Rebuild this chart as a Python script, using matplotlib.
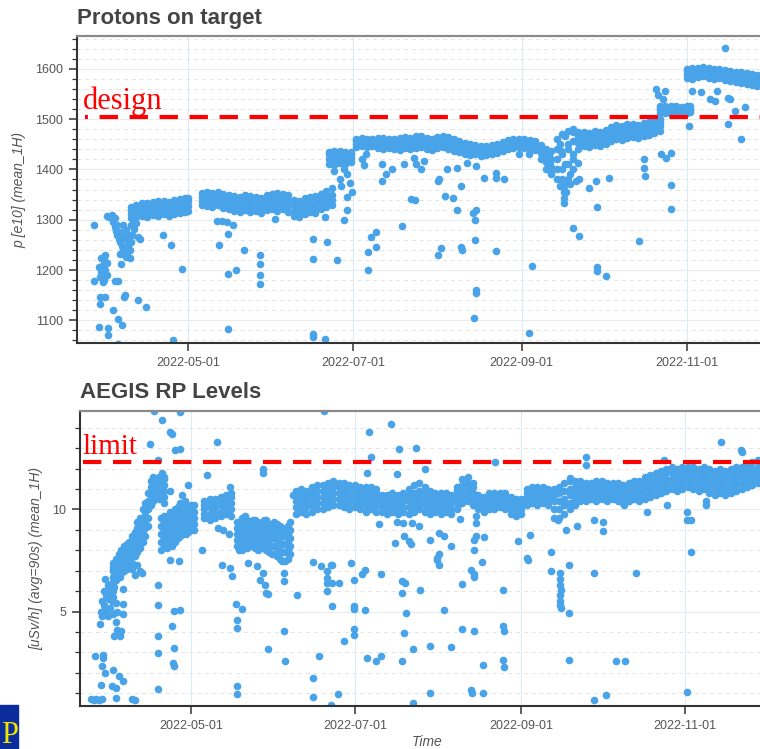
import numpy as np
import matplotlib
matplotlib.use("Agg")
import matplotlib.pyplot as plt
import matplotlib.dates as mdates
from matplotlib.patches import Rectangle
from matplotlib.ticker import MultipleLocator, AutoMinorLocator

# Values. Days are day-of-year in 2022 (121 = 2022-05-01)
DESIGN = 1505      # p [e10]
LIMIT = 12.3       # uSv/h

# Protons on target: dense band, one column of values per day (low -> high)
pot_band_day = [100, 102, 104, 106, 108, 110, 112, 114, 116, 118, 120, 121,
                126, 128, 130, 132, 134, 136, 138, 140, 142, 144, 146, 148, 150,
                152, 154, 156, 158, 160, 162, 164, 166, 168, 170, 172, 174,
                173, 175, 177, 179, 181,
                183, 185, 187, 189, 191, 193, 195, 197, 199, 201, 203, 205, 207,
                209, 211, 213, 215, 217, 219, 221, 223, 225, 227, 229, 231, 233,
                235, 237, 239, 241, 243, 245, 247, 249, 251, 253, 255,
                257, 259, 261, 263, 265, 267, 269, 271, 273, 275, 277, 279, 281,
                283, 285, 287, 289, 291, 293, 295,
                295, 297, 299, 301, 303, 305, 306,
                305, 307, 309, 311, 313, 315, 317, 319, 321, 323, 325, 327, 329, 331, 333]
pot_band_vals = [
    [1304, 1312, 1320, 1326], [1306, 1314, 1322, 1330], [1308, 1316, 1326, 1334],
    [1306, 1316, 1326, 1334], [1310, 1320, 1328, 1336], [1308, 1318, 1328, 1338],
    [1312, 1322, 1330, 1338], [1308, 1318, 1330, 1336], [1312, 1322, 1332, 1340],
    [1314, 1324, 1334, 1342], [1316, 1326, 1336, 1344], [1318, 1328, 1338, 1344],
    [1330, 1338, 1346, 1354], [1328, 1338, 1348, 1356], [1326, 1336, 1346, 1354],
    [1330, 1340, 1348, 1356], [1324, 1334, 1344, 1352], [1322, 1332, 1342, 1350],
    [1318, 1328, 1338, 1348], [1316, 1326, 1336, 1346], [1320, 1330, 1340, 1350],
    [1316, 1326, 1338, 1348], [1318, 1328, 1338, 1346], [1314, 1324, 1334, 1344],
    [1320, 1330, 1340, 1350], [1322, 1332, 1342, 1352], [1318, 1330, 1342, 1354],
    [1322, 1334, 1344, 1352], [1316, 1328, 1340, 1350], [1308, 1318, 1330, 1340],
    [1306, 1316, 1326, 1338], [1312, 1322, 1334, 1344], [1316, 1326, 1336, 1346],
    [1314, 1326, 1338, 1348], [1322, 1334, 1344, 1352], [1326, 1336, 1346, 1358],
    [1330, 1340, 1350, 1362],
    [1410, 1420, 1430, 1434], [1408, 1418, 1428, 1436], [1412, 1422, 1432, 1436],
    [1410, 1420, 1430, 1434], [1414, 1422, 1430, 1434],
    [1444, 1450, 1456, 1460], [1446, 1452, 1458, 1462], [1444, 1450, 1456, 1460],
    [1446, 1452, 1458, 1460], [1442, 1450, 1456, 1462], [1440, 1448, 1456, 1462],
    [1442, 1450, 1458, 1460], [1440, 1448, 1454, 1460], [1438, 1446, 1454, 1462],
    [1442, 1450, 1458, 1464], [1440, 1448, 1456, 1462], [1442, 1450, 1458, 1466],
    [1444, 1452, 1460, 1466], [1440, 1448, 1456, 1462], [1438, 1446, 1454, 1460],
    [1442, 1450, 1458, 1464], [1444, 1452, 1460, 1466], [1440, 1450, 1458, 1464],
    [1436, 1446, 1454, 1460], [1434, 1442, 1450, 1456], [1430, 1438, 1446, 1452],
    [1428, 1436, 1444, 1450], [1430, 1436, 1442, 1448], [1426, 1432, 1440, 1446],
    [1428, 1434, 1440, 1446], [1430, 1436, 1442, 1448], [1432, 1438, 1444, 1450],
    [1436, 1442, 1448, 1454], [1440, 1446, 1452, 1458], [1442, 1448, 1454, 1460],
    [1444, 1450, 1456, 1460], [1442, 1448, 1454, 1460], [1440, 1446, 1452, 1458],
    [1438, 1444, 1450, 1456], [1420, 1432, 1440, 1448], [1400, 1414, 1428, 1440],
    [1392, 1404, 1420, 1436],
    [1380, 1400, 1440, 1460], [1370, 1400, 1430, 1470], [1380, 1410, 1450, 1476],
    [1400, 1430, 1456, 1474], [1440, 1452, 1464, 1474], [1446, 1456, 1466, 1474],
    [1444, 1454, 1464, 1472], [1448, 1458, 1468, 1476], [1446, 1456, 1466, 1474],
    [1450, 1460, 1470, 1478], [1456, 1466, 1476, 1484], [1460, 1470, 1480, 1488],
    [1458, 1468, 1478, 1486], [1462, 1472, 1482, 1490], [1464, 1474, 1484, 1490],
    [1462, 1472, 1480, 1488], [1466, 1476, 1486, 1492], [1468, 1478, 1488, 1494],
    [1472, 1482, 1492, 1498], [1476, 1486, 1494, 1500],
    [1512, 1518, 1522, 1526], [1512, 1516, 1520, 1526], [1510, 1516, 1522, 1526],
    [1512, 1518, 1522, 1526], [1510, 1516, 1520, 1524], [1512, 1518, 1522, 1526],
    [1514, 1518, 1522, 1526],
    [1582, 1590, 1596, 1600], [1580, 1588, 1596, 1602], [1584, 1592, 1598, 1602],
    [1586, 1594, 1600, 1604], [1582, 1590, 1596, 1602], [1580, 1588, 1594, 1600],
    [1582, 1590, 1596, 1600], [1578, 1586, 1592, 1598], [1576, 1584, 1590, 1596],
    [1574, 1582, 1588, 1594], [1572, 1580, 1588, 1594], [1570, 1578, 1586, 1592],
    [1568, 1576, 1584, 1590], [1566, 1574, 1582, 1588], [1566, 1572, 1580, 1586],
]

# Protons on target: scattered points
pot_out_day = [86.4, 86.4, 88.3, 91.6, 91.6, 88.6, 88.6, 90.5, 93.4, 95.3, 96.7, 95.3,
               94.2, 95.3, 97.5, 97.8, 96, 96.4, 102.6, 105.6, 102.6, 103.4, 111.8,
               114.8, 118.8, 115.5,
               88.5, 89, 89.5, 90, 90.5, 91, 91, 89, 90, 88, 89.5, 90.5,
               91, 92, 93, 94,
               93.5, 94, 94.5, 95, 95.5, 96, 96.5, 97, 97.5, 98, 98.5, 99, 99.5, 99,
               98, 97, 96, 95, 100, 100.5, 101, 102, 98, 97, 99.5, 100,
               132.4, 135.7, 138.6, 135.7, 135.7, 131.7, 133.5, 135.3, 137.5, 141.6,
               147.5, 147.5, 147.5, 147.5, 153, 167, 167, 172.1, 167, 167.2, 171.7,
               171.4, 175.8, 179.5, 179.5, 178.7, 187.2, 187.2, 188.6, 190.5, 190.5,
               176.9, 177.6, 179.8, 180.6, 181.3, 175, 178.7, 185, 186, 186.5,
               192.7, 194.2, 196.4, 200.8, 204.5, 205.2, 208.1, 207, 213.6, 216.6,
               220.3, 221.7, 223.9, 227.2, 230.2, 234.6, 234.6, 237.5, 243, 246.7,
               254, 254.5, 254, 255, 258.5, 260.3, 265.1, 268.8, 271.4, 276.1, 289,
               289, 289.4, 295.6, 297.1, 299.3, 299, 305.6, 306.7, 310, 313.6, 315.5,
               315.9, 320.3, 321, 322.8, 326.5, 320.3, 325, 319.2, 293.5, 294.5, 296, 297,
               257, 258, 259, 260, 261, 262, 263, 264, 258, 262, 260, 263, 265,
               203.4, 204.8, 215.9, 218.8, 220.3, 226.1, 227.2, 226.9, 200, 226.9,
               214.4, 213.3, 221.7, 222.1, 234.6, 227.2, 227.2, 226.5, 247.8, 246.7,
               259.6, 259.6, 259.6, 259.6, 259.6, 271.7, 262.9, 265.1, 271.7, 271.9,
               275, 287.5, 299, 192.7, 213.3]
pot_out_val = [1290, 1178, 1086, 1084, 1070, 1146, 1132, 1146, 1120, 1102, 1090, 1054,
               1178, 1178, 1146, 1150, 1232, 1212, 1140, 1126, 1266, 1262, 1270,
               1250, 1202, 1060,
               1186, 1196, 1210, 1222, 1200, 1214, 1190, 1224, 1180, 1206, 1176, 1230,
               1308, 1306, 1310, 1304,
               1296, 1286, 1278, 1270, 1262, 1256, 1248, 1240, 1232, 1226, 1236, 1250,
               1240, 1270, 1280, 1290, 1276, 1290, 1290, 1270, 1282, 1294, 1262, 1266,
               1224, 1256,
               1250, 1192, 1200, 1082, 1272, 1298, 1298, 1296, 1290, 1240,
               1230, 1212, 1190, 1172, 1302, 1222, 1262, 1256, 1072, 1066, 1062,
               1306, 1220, 1346, 1320, 1300, 1200, 1236, 1266, 1246, 1276,
               1380, 1366, 1390, 1372, 1356, 1396, 1400, 1420, 1408, 1430,
               1410, 1390, 1400, 1410, 1422, 1410, 1416, 1400, 1380, 1400,
               1402, 1366, 1412, 1406, 1382, 1392, 1382, 1380, 1430, 1430,
               1430, 1415, 1400, 1390, 1436, 1356, 1380, 1362, 1376, 1382, 1420,
               1402, 1386, 1430, 1422, 1432, 1368, 1486, 1556, 1554, 1540, 1536,
               1556, 1542, 1540, 1516, 1524, 1490, 1460, 1642, 1560, 1548, 1540, 1556,
               1420, 1450, 1380, 1410, 1440, 1390, 1420, 1376, 1366, 1370, 1466, 1480, 1412,
               1342, 1340, 1348, 1344, 1320, 1314, 1320, 1300, 1288, 1260,
               1244, 1230, 1246, 1240, 1238, 1160, 1154, 1104, 1208, 1074,
               1376, 1366, 1356, 1344, 1334, 1326, 1284, 1268, 1206, 1198,
               1188, 1258, 1322, 1376, 1376]

# AEGIS RP levels: dense band, one column of values per day (low -> high)
rp_band_day = [92, 93, 94, 95, 96, 97, 98, 99, 100, 101, 102, 103, 104, 105,
               106, 107, 109, 111,
               110, 111, 112, 113, 114, 115, 116, 117, 118, 119, 120, 121, 122,
               126, 128, 130, 132, 134, 136,
               138, 139, 140, 141, 142, 143, 144, 145, 146, 147, 148, 149, 150, 151,
               152, 153, 154, 155, 156, 157, 158,
               160, 162, 164, 166, 168, 170, 172, 174,
               176, 178, 180, 182, 184, 186, 188, 190,
               192, 194, 196, 198, 200, 202, 204, 206, 208, 210, 212, 214, 216, 218,
               220, 222, 224, 226, 228, 230, 232, 234, 236, 238, 240, 242, 244, 246,
               248, 250, 252, 254, 256, 258, 260, 262, 264, 266, 268, 270, 272, 274,
               276, 278, 280, 282, 284, 286, 288, 290, 292, 294, 296, 298, 300, 302,
               304, 306, 308, 310, 312, 314, 316, 318, 320, 322, 324, 326, 328, 330,
               332, 334]
rp_band_vals = [
    [6.4, 6.7, 7.0, 7.2, 7.4], [6.6, 6.9, 7.2, 7.4, 7.6],
    [6.8, 7.0, 7.3, 7.5, 7.8], [6.9, 7.2, 7.5, 7.7, 8.0],
    [7.0, 7.3, 7.6, 7.9, 8.2], [7.1, 7.4, 7.7, 8.0, 8.3],
    [7.2, 7.5, 7.8, 8.1, 8.4], [7.4, 7.7, 8.0, 8.3, 8.7],
    [7.7, 8.0, 8.3, 8.6, 8.9], [7.9, 8.3, 8.7, 9.1, 9.4],
    [8.1, 8.5, 8.9, 9.3, 9.6], [8.4, 8.8, 9.2, 9.6, 10.0],
    [8.7, 9.1, 9.5, 9.9, 10.3], [9.2, 9.6, 10.0, 10.4, 10.8],
    [10.2, 10.5, 10.8, 11.1, 11.4],
    [10.4, 10.7, 11.0, 11.3, 11.6], [10.5, 10.8, 11.1, 11.4, 11.6],
    [10.3, 10.6, 10.9, 11.2, 11.5],
    [8.0, 8.4, 8.8, 9.2, 9.6], [8.2, 8.6, 9.0, 9.4, 9.7],
    [8.1, 8.5, 8.9, 9.3, 9.7], [8.3, 8.7, 9.1, 9.5, 9.9],
    [8.2, 8.6, 9.0, 9.4, 9.8], [8.4, 8.8, 9.2, 9.6, 10.0],
    [8.6, 9.0, 9.4, 9.8, 10.1], [8.7, 9.1, 9.5, 9.9, 10.3],
    [8.8, 9.2, 9.5, 9.8, 10.2], [8.8, 9.1, 9.4, 9.7, 10.0],
    [8.9, 9.2, 9.5, 9.8, 10.1], [9.0, 9.3, 9.6, 9.9, 10.2],
    [9.0, 9.3, 9.6, 9.9, 10.2],
    [9.6, 9.8, 10.0, 10.2, 10.4], [9.5, 9.8, 10.1, 10.3, 10.5],
    [9.6, 9.9, 10.1, 10.3, 10.5], [9.7, 9.9, 10.2, 10.4, 10.6],
    [9.8, 10.0, 10.3, 10.5, 10.7], [9.7, 10.0, 10.3, 10.6, 10.8],
    [8.2, 8.5, 8.8, 9.1, 9.4], [8.0, 8.3, 8.7, 9.0, 9.4],
    [8.0, 8.4, 8.8, 9.2, 9.6], [8.2, 8.6, 9.0, 9.4, 9.7],
    [8.1, 8.5, 8.9, 9.2, 9.5], [8.2, 8.5, 8.8, 9.1, 9.4],
    [8.3, 8.6, 8.9, 9.2, 9.5], [8.1, 8.5, 8.9, 9.2, 9.5],
    [8.0, 8.4, 8.8, 9.1, 9.4], [8.1, 8.4, 8.7, 9.0, 9.3],
    [8.2, 8.5, 8.8, 9.1, 9.5], [8.0, 8.4, 8.8, 9.2, 9.5],
    [7.9, 8.3, 8.7, 9.0, 9.3], [7.8, 8.2, 8.6, 8.9, 9.2],
    [7.8, 8.2, 8.6, 9.0, 9.4], [7.7, 8.1, 8.5, 8.9, 9.3],
    [7.6, 8.0, 8.4, 8.8, 9.2], [7.5, 7.9, 8.3, 8.7, 9.1],
    [7.5, 7.9, 8.3, 8.7, 9.0], [7.6, 8.0, 8.4, 8.8, 9.2],
    [7.8, 8.2, 8.6, 9.0, 9.4],
    [9.8, 10.1, 10.4, 10.7, 10.9], [9.9, 10.2, 10.5, 10.8, 11.0],
    [9.8, 10.1, 10.4, 10.7, 10.9], [9.9, 10.2, 10.5, 10.8, 11.1],
    [10.0, 10.3, 10.6, 10.9, 11.2], [10.0, 10.3, 10.6, 10.9, 11.2],
    [10.1, 10.4, 10.7, 11.0, 11.3], [10.2, 10.5, 10.8, 11.1, 11.4],
    [10.2, 10.5, 10.8, 11.1, 11.3], [10.1, 10.4, 10.7, 11.0, 11.3],
    [10.0, 10.3, 10.6, 10.9, 11.2], [10.1, 10.4, 10.7, 11.0, 11.2],
    [10.0, 10.3, 10.6, 10.9, 11.1], [9.9, 10.2, 10.5, 10.8, 11.1],
    [10.0, 10.3, 10.6, 10.9, 11.1], [9.9, 10.2, 10.5, 10.8, 11.0],
    [9.9, 10.1, 10.3, 10.5, 10.7], [9.8, 10.0, 10.3, 10.5, 10.7],
    [9.9, 10.1, 10.3, 10.5, 10.8], [9.8, 10.0, 10.2, 10.5, 10.7],
    [9.9, 10.1, 10.4, 10.6, 10.8], [9.8, 10.1, 10.4, 10.7, 11.0],
    [9.9, 10.2, 10.5, 10.8, 11.2], [10.0, 10.3, 10.6, 10.9, 11.3],
    [9.9, 10.2, 10.5, 10.8, 11.1], [9.8, 10.1, 10.4, 10.7, 10.9],
    [9.9, 10.1, 10.3, 10.6, 10.8], [9.8, 10.0, 10.3, 10.5, 10.8],
    [9.9, 10.1, 10.4, 10.6, 10.8], [9.8, 10.0, 10.3, 10.5, 10.7],
    [10.0, 10.3, 10.6, 10.9, 11.1], [10.3, 10.6, 10.9, 11.2, 11.5],
    [10.4, 10.7, 11.0, 11.3, 11.6], [10.2, 10.5, 10.8, 11.1, 11.3],
    [10.0, 10.2, 10.4, 10.6, 10.7], [9.9, 10.1, 10.3, 10.5, 10.6],
    [10.0, 10.2, 10.4, 10.6, 10.8], [10.0, 10.2, 10.4, 10.6, 10.8],
    [10.1, 10.3, 10.5, 10.7, 10.8], [10.0, 10.2, 10.4, 10.6, 10.8],
    [9.8, 10.0, 10.2, 10.4, 10.6], [9.7, 9.9, 10.1, 10.3, 10.5],
    [9.8, 10.0, 10.2, 10.4, 10.5], [10.2, 10.4, 10.6, 10.8, 11.0],
    [10.3, 10.5, 10.7, 10.9, 11.1], [10.2, 10.5, 10.8, 11.0, 11.1],
    [10.3, 10.5, 10.7, 10.9, 11.1], [10.2, 10.4, 10.6, 10.8, 11.0],
    [9.6, 10.0, 10.4, 10.7, 11.0], [9.6, 10.0, 10.4, 10.8, 11.1],
    [9.8, 10.2, 10.5, 10.9, 11.3], [10.0, 10.3, 10.7, 11.0, 11.4],
    [10.2, 10.5, 10.8, 11.1, 11.4], [10.4, 10.6, 10.9, 11.1, 11.4],
    [10.4, 10.6, 10.8, 11.1, 11.3], [10.5, 10.7, 10.9, 11.1, 11.3],
    [10.4, 10.6, 10.9, 11.1, 11.4], [10.5, 10.7, 10.9, 11.2, 11.4],
    [10.4, 10.6, 10.8, 11.0, 11.3], [10.5, 10.7, 10.9, 11.1, 11.3],
    [10.4, 10.6, 10.9, 11.1, 11.3], [10.3, 10.6, 10.8, 11.0, 11.2],
    [10.4, 10.6, 10.8, 11.1, 11.3], [10.5, 10.7, 10.9, 11.2, 11.4],
    [10.4, 10.6, 10.9, 11.2, 11.4], [10.5, 10.8, 11.0, 11.3, 11.6],
    [10.6, 10.9, 11.2, 11.4, 11.7], [10.7, 11.0, 11.2, 11.5, 11.8],
    [10.8, 11.1, 11.4, 11.7, 11.9], [10.9, 11.2, 11.5, 11.8, 12.0],
    [11.0, 11.3, 11.5, 11.8, 12.1], [10.9, 11.2, 11.5, 11.8, 12.0],
    [11.0, 11.3, 11.6, 11.8, 12.1], [11.1, 11.4, 11.6, 11.9, 12.1],
    [11.0, 11.3, 11.6, 11.9, 12.1], [10.9, 11.2, 11.5, 11.8, 12.0],
    [11.0, 11.3, 11.6, 11.9, 12.1], [10.8, 11.1, 11.4, 11.7, 12.0],
    [10.7, 11.0, 11.3, 11.6, 11.9], [10.8, 11.1, 11.4, 11.7, 12.0],
    [10.7, 11.0, 11.3, 11.6, 11.9], [10.8, 11.1, 11.4, 11.7, 12.0],
    [10.9, 11.2, 11.5, 11.8, 12.1], [11.0, 11.3, 11.6, 11.9, 12.1],
    [11.1, 11.4, 11.7, 11.9, 12.2], [11.2, 11.5, 11.8, 12.0, 12.3],
    [11.3, 11.6, 11.9, 12.1, 12.4], [11.3, 11.6, 11.9, 12.2, 12.4],
]

# AEGIS RP levels: scattered points
rp_out_day = [83.6, 84.7, 85.8, 86.9, 88, 100.3, 99.1, 85.1, 88.4, 88.4, 88, 88.8, 87.3,
              91.7, 92.9, 92.1, 94, 95.8, 93.2,
              87, 87.5, 88, 88.5, 89, 89.5, 90, 90, 90.5, 91, 91, 91.5, 92, 92, 92.5,
              93, 93, 93.5, 94, 94.5, 92.5, 95, 89, 88, 89.5, 90.5, 91.5, 88.5, 92, 93.5,
              92.1, 92.9, 95.8, 95.8, 95.8, 94.7, 94.7, 94.7, 101, 102, 102.9, 99, 100,
              108.8, 108.8, 108.8, 108.8, 108.8, 113.9, 114.5, 114.2, 114.7, 114.6, 117,
              113.3, 116.4, 132.5, 135.4, 136.2, 137.7, 139.9, 138, 138, 138, 138.1,
              142.1, 145.4, 146.6, 148.4, 149.1, 149.5, 147.7, 149.5, 155.8, 155.8, 155.8,
              156, 160.6, 166.6, 169.5, 173.2, 173.6, 171.7, 171.7, 171.7, 173.6, 176.2,
              171.7, 173.6, 168.8, 166.6, 166.6, 175.8, 173.2, 178, 181.7, 181.7, 181.7,
              181.7, 180.6, 181.7, 185.8, 186.6, 189.9, 184.7, 185.8,
              191.6, 199.6, 200.6, 199.6, 206.1, 201.1, 200.3, 203.7, 199.6, 191.9, 209.9,
              217.9, 215.1, 213.2, 212.6, 221.9, 226.2, 221.9, 225.3, 226.2, 226.4, 229.5,
              237.3, 237.3, 237.7, 237.3, 237.5, 229.9, 209.9, 225.3, 225.5, 229.9, 203.7,
              254.9, 261.9, 258.4, 258.5, 258.4, 258.6, 258.4, 258.5, 258.4, 258.7,
              261.9, 261.9, 271.1, 286.8, 271.1, 275.6, 279.3, 282.6, 305.8, 246.6,
              195.3, 198.4, 204.6, 208.3, 197.6, 234.2, 268.2, 268.2, 262, 318.2, 325.9,
              326, 297.2,
              191, 197.8, 199.9, 203.3, 206, 196.9, 200.3, 202.1, 203.1, 210.1, 213.2,
              213.2, 212.6, 215.1, 217.9, 221.2, 220.6, 227, 227, 226.4, 227.2, 230.1,
              226.4, 242.9, 247.4, 246.2, 254.9, 257.6, 260.5, 264.7, 271.2, 274.5, 274.5,
              282.3, 290.7, 298.1, 305.8, 305.8, 307.3, 307.3, 312.6, 312.6,
              105.8, 108.8, 110.3, 110.9, 107.4, 116.9, 110.3, 113.3, 113.9, 116.9, 115.1,
              120, 113.3, 118.8, 117.6, 130.6, 125, 126.9, 135.4, 147.7, 147.8, 158.8,
              162.5, 187.3, 188, 186.6, 170.6, 133, 135, 131]
rp_out_val = [0.7, 0.68, 0.72, 0.66, 0.7, 0.69, 0.72, 2.81, 2.89, 2.73, 2.32, 1.99, 1.42,
              1.34, 1.26, 2.15, 1.83, 1.62, 0.77,
              4.4, 5.0, 5.5, 6.0, 5.2, 5.8, 6.3, 4.8, 5.6, 6.0, 5.2, 6.4, 5.7, 4.9, 6.2,
              5.4, 4.5, 4.1, 3.9, 3.8, 3.8, 4.05, 6.6, 4.8, 5.1, 5.9, 5.5, 5.3, 6.0, 5.0,
              7.06, 6.57, 4.87, 5.36, 6.09, 7.4, 7.0, 6.7, 7.3, 7.0, 6.9, 7.1, 6.8,
              6.32, 5.34, 3.79, 2.97, 1.21, 4.28, 3.22, 2.49, 2.36, 5.03, 5.06,
              7.55, 7.47, 7.3, 7.14, 6.73, 5.36, 5.15, 4.6, 4.2, 1.34, 0.98,
              7.39, 7.22, 6.57, 6.32, 5.92, 5.84, 6.9, 3.17, 6.9, 6.49, 4.04,
              2.6, 5.8, 7.42, 7.22, 7.3, 7.3, 6.98, 6.65, 6.41, 6.41, 6.41,
              6.0, 5.28, 2.85, 1.75, 0.82, 0.97, 0.45, 3.54, 5.28, 5.11, 4.13,
              3.87, 7.39, 6.57, 5.08, 2.73, 2.57, 6.82, 7.06,
              6.82, 6.49, 6.38, 5.92, 6.08, 4.94, 3.93, 3.15, 2.57, 2.81, 3.30,
              3.25, 5.1, 7.26, 7.55, 4.15, 4.07, 6.37, 7.06, 6.82, 6.7, 7.42,
              6.04, 4.28, 4.04, 2.65, 2.28, 2.40, 1.02, 1.14, 1.02, 1.02, 0.53,
              6.98, 7.26, 6.9, 6.6, 6.3, 6.05, 5.8, 5.5, 5.3, 5.2,
              4.94, 2.65, 6.9, 6.9, 0.69, 0.94, 2.57, 2.57, 1.06, 7.55,
              14.17, 12.94, 13.02, 12.0, 11.72, 12.32, 12.58, 12.2, 11.55, 13.3, 12.9,
              12.8, 12.4,
              9.27, 9.4, 9.32, 9.35, 9.18, 8.37, 8.69, 8.45, 8.29, 8.5, 8.86,
              7.8, 7.63, 8.69, 8.2, 9.51, 10.24, 9.67, 9.35, 8.53, 8.69, 8.66,
              8.04, 8.45, 8.74, 7.63, 7.9, 9.5, 9.0, 9.2, 9.5, 9.4, 8.95,
              10.2, 9.9, 10.2, 9.9, 9.5, 9.5, 7.9, 10.2, 10.4,
              13.2, 12.4, 11.8, 11.6, 14.8, 14.75, 14.4, 13.8, 13.7, 12.97, 12.9,
              11.2, 10.9, 10.4, 10.7, 13.3, 8.04, 11.7, 11.1, 11.96, 11.8, 10.7,
              10.3, 13.8, 12.55, 11.8, 14.8, 9.0, 8.8, 9.1]

DOT = "#48a3e8"
W, H = 760, 749


def to_date(doy):
    secs = np.round((np.asarray(doy, dtype=float) - 1) * 86400).astype("int64")
    return np.datetime64("2022-01-01T00:00:00") + secs.astype("timedelta64[s]")


def band_points(days, vals):
    xs, ys = [], []
    for d, col in zip(days, vals):
        for v in col:
            xs.append(d)
            ys.append(v)
    return to_date(xs), np.array(ys)


def style_axes(ax):
    for side in ["left", "bottom"]:
        ax.spines[side].set_color("#333333")
        ax.spines[side].set_linewidth(1.5)
    ax.spines["top"].set_color("#8a8a8a")
    ax.spines["top"].set_linewidth(1.6)
    ax.spines["right"].set_visible(False)
    ax.tick_params(which="major", length=6, width=1.1, color="#333333",
                   labelsize=9, labelcolor="#555555", pad=4)
    ax.tick_params(which="minor", length=3.5, width=0.9, color="#333333")
    ax.xaxis.set_major_locator(mdates.MonthLocator(bymonth=[5, 7, 9, 11]))
    ax.xaxis.set_major_formatter(mdates.DateFormatter("%Y-%m-%d"))
    ax.yaxis.grid(True, which="major", color="#e6ecf0", lw=0.8)
    ax.yaxis.grid(True, which="minor", color="#e4e4e4", lw=0.7, ls=(0, (4, 4)))
    ax.xaxis.grid(True, which="major", color="#dcebf5", lw=0.8)
    ax.set_axisbelow(True)
    for lab in ax.get_xticklabels() + ax.get_yticklabels():
        lab.set_family("Liberation Sans")


plt.rcParams["font.family"] = ["Liberation Sans", "DejaVu Sans"]
fig = plt.figure(figsize=(W / 100, H / 100), dpi=100)

# ---- Protons on target
ax1 = fig.add_axes([77 / W, 406 / H, (774 - 77) / W, 307 / H])
x, y = band_points(pot_band_day, pot_band_vals)
ax1.scatter(x, y, s=30, color=DOT, linewidths=0, zorder=2)
ax1.scatter(to_date(pot_out_day), pot_out_val, s=30, color=DOT, linewidths=0, zorder=2)
ax1.plot(to_date([83.0, 340]), [DESIGN, DESIGN], color="red", lw=3.0,
         ls=(3.7, (4.4, 2.8)), zorder=3)
ax1.text(to_date(82.3), 1520, "design", color="red", fontsize=22,
         family="Liberation Serif", va="baseline", zorder=4)
ax1.set_xlim(to_date(80.07), to_date(337.1))
ax1.set_ylim(1055, 1665)
ax1.yaxis.set_major_locator(MultipleLocator(100))
ax1.yaxis.set_minor_locator(AutoMinorLocator(5))
style_axes(ax1)
ax1.set_title("Protons on target", loc="left", fontsize=16, fontweight="bold",
              color="#444444", pad=9)
ax1.set_ylabel("p [e10] (mean_1H)", fontsize=10, style="italic", color="#555555")
ax1.yaxis.set_label_coords(-0.073, 0.5)

# ---- AEGIS RP Levels
ax2 = fig.add_axes([80 / W, 43 / H, (774 - 80) / W, 295 / H])
x, y = band_points(rp_band_day, rp_band_vals)
ax2.scatter(x, y, s=30, color=DOT, linewidths=0, zorder=2)
ax2.scatter(to_date(rp_out_day), rp_out_val, s=30, color=DOT, linewidths=0, zorder=2)
ax2.plot(to_date([80.67, 340]), [LIMIT, LIMIT], color="red", lw=3.0,
         ls=(0, (4.4, 2.8)), zorder=3)
ax2.text(to_date(80.4), 12.7, "limit", color="red", fontsize=21,
         family="Liberation Serif", va="baseline", zorder=4)
ax2.set_xlim(to_date(79.66), to_date(338.1))
ax2.set_ylim(0.38, 14.82)
ax2.yaxis.set_major_locator(MultipleLocator(5))
ax2.yaxis.set_minor_locator(AutoMinorLocator(5))
style_axes(ax2)
ax2.set_title("AEGIS RP Levels", loc="left", fontsize=16, fontweight="bold",
              color="#444444", pad=9)
ax2.set_ylabel("[uSv/h] (avg=90s) (mean_1H)", fontsize=10, style="italic",
               color="#555555")
ax2.yaxis.set_label_coords(-0.053, 0.5)
ax2.set_xlabel("Time", fontsize=10, style="italic", color="#555555", labelpad=2)

# slide logo in the corner
fig.patches.append(Rectangle((0, 0), 18 / W, 44 / H, transform=fig.transFigure,
                             color="#0b2c9a", zorder=5))
fig.text(10 / W, 6 / H, "P", color="#f2e600", fontsize=22, family="Liberation Serif",
         ha="center", va="baseline", zorder=6)

fig.savefig("out.png", dpi=100)
